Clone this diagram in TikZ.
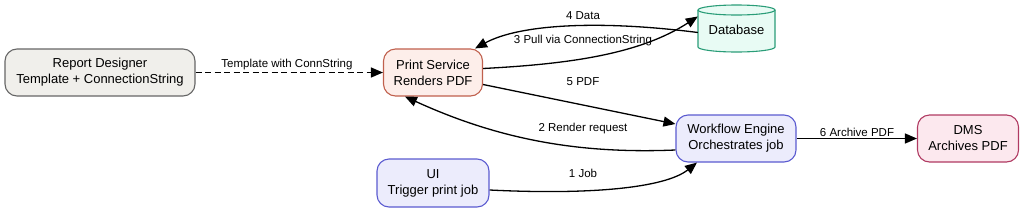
\documentclass[tikz,border=0pt]{standalone}
\usepackage{fontspec}
\setmainfont{Liberation Sans}
\usetikzlibrary{arrows.meta}
\definecolor{greyfill}{HTML}{F0EFEB}
\definecolor{greyline}{HTML}{666666}
\definecolor{psfill}{HTML}{FDEEEA}
\definecolor{psline}{HTML}{C0604D}
\definecolor{dbfill}{HTML}{E8FBF4}
\definecolor{dbline}{HTML}{2A9D78}
\definecolor{wffill}{HTML}{ECECFC}
\definecolor{wfline}{HTML}{5B5BD0}
\definecolor{dmsfill}{HTML}{FCE8EE}
\definecolor{dmsline}{HTML}{B03A62}
\tikzset{
  box/.style={rounded corners=12pt, line width=1.1pt, align=center, font=\fontsize{13}{16}\selectfont, inner sep=0pt},
  lbl/.style={font=\fontsize{11.5}{13}\selectfont, inner sep=1pt},
  conn/.style={line width=1.3pt, -{Triangle[length=12pt,width=10pt]}},
}
\begin{document}
\begin{tikzpicture}[x=1pt,y=-1pt]
\useasboundingbox (0,0) rectangle (1024,212);
\node[box, draw=greyline, fill=greyfill, minimum width=190pt, minimum height=47pt] (rd) at (100,72.5) {Report Designer\\Template + ConnectionString};
\node[box, draw=psline, fill=psfill, minimum width=99pt, minimum height=47pt] (ps) at (433,72.5) {Print Service\\Renders PDF};
\node[box, draw=wfline, fill=wffill, minimum width=120pt, minimum height=47pt] (wf) at (736,138.5) {Workflow Engine\\Orchestrates job};
\node[box, draw=wfline, fill=wffill, minimum width=112pt, minimum height=48pt] (ui) at (433,183) {UI\\Trigger print job};
\node[box, draw=dmsline, fill=dmsfill, minimum width=101pt, minimum height=47pt] (dms) at (968,138.5) {DMS\\Archives PDF};
% database cylinder
\node[minimum width=77pt, minimum height=47pt, inner sep=0pt] (db) at (736.5,28.5) {};
\fill[dbfill] (698,10) -- (698,47) arc[start angle=180, end angle=360, x radius=38.5pt, y radius=5pt] -- (775,10) -- cycle;
\fill[dbfill] (736.5,10) ellipse[x radius=38.5pt, y radius=5pt];
\draw[dbline, line width=1.1pt] (736.5,10) ellipse[x radius=38.5pt, y radius=5pt];
\draw[dbline, line width=1.1pt] (698,10) -- (698,47) arc[start angle=180, end angle=360, x radius=38.5pt, y radius=5pt] -- (775,10);
\node[font=\fontsize{13}{16}\selectfont] (dbt) at (736.5,30) {Database};
% edges
\draw[conn, dash pattern=on 6pt off 3.5pt] (rd.east) -- (ps.west);
\node[lbl] (l0) at (287,65) {Template with ConnString};
\coordinate (db4) at ([yshift=-4pt]db.west);
\coordinate (ps4) at ([xshift=-8pt]ps.north east);
\draw[conn] (db4) .. controls (600,20) and (520,24) .. (ps4);
\node[lbl] (l4) at (583,15.5) {4 Data};
\coordinate (ps3) at ([yshift=4pt]ps.east);
\coordinate (db3) at ([yshift=12pt]db.west);
\draw[conn] (ps3) .. controls (570,64) and (640,54) .. (db3);
\node[lbl] (l3) at (583,41) {3 Pull via ConnectionString};
\coordinate (ps5) at ([yshift=-12pt]ps.east);
\coordinate (wf5) at ([yshift=14.5pt]wf.west);
\draw[conn] (ps5) -- (wf5);
\node[lbl] (l5) at (583,82) {5 PDF};
\coordinate (wf2) at ([yshift=-11.5pt]wf.west);
\coordinate (ps2) at ([xshift=22pt]ps.south west);
\draw[conn] (wf2) .. controls (580,154) and (500,140) .. (ps2);
\node[lbl] (l2) at (583,129) {2 Render request};
\coordinate (ui1) at ([yshift=-7pt]ui.east);
\coordinate (wf1) at ([xshift=-39pt]wf.south);
\draw[conn] (ui1) .. controls (590,195) and (665,188) .. (wf1);
\node[lbl] (l1) at (583,173) {1 Job};
\draw[conn] (wf.east) -- (dms.west);
\node[lbl] (l6) at (857,132) {6 Archive PDF};
\end{tikzpicture}
\end{document}
